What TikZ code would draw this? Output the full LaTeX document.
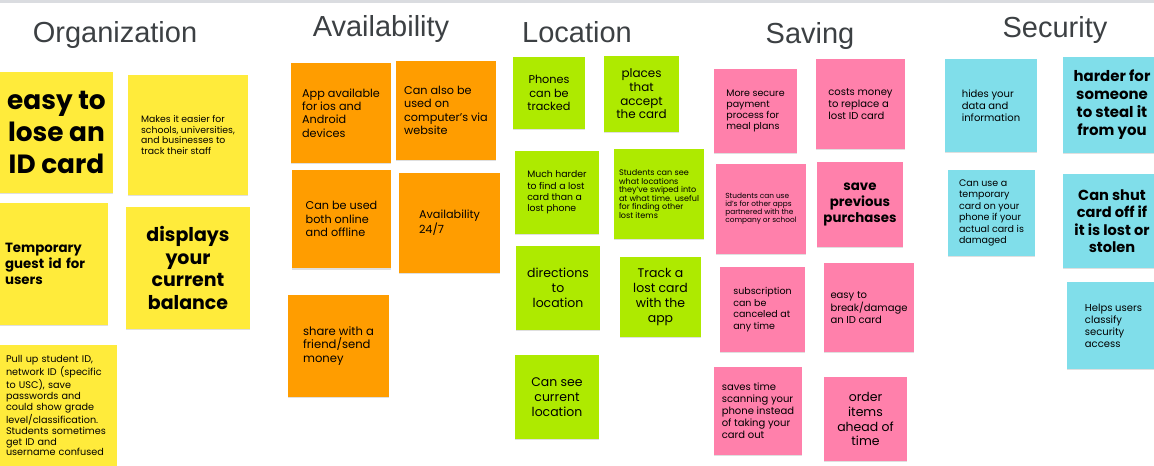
\documentclass[tikz,border=0pt]{standalone}
\usepackage{fontspec}
\setmainfont{Poppins}
\newfontfamily\headfont{Liberation Sans}
\usepackage{xcolor}
\usetikzlibrary{shadows}
\definecolor{stickyy}{HTML}{FFEB3B}
\definecolor{stickyo}{HTML}{FF9D00}
\definecolor{stickyg}{HTML}{AEEA00}
\definecolor{stickyp}{HTML}{FF80AB}
\definecolor{stickyc}{HTML}{80DEEA}
\definecolor{headgray}{HTML}{3C4043}
\definecolor{topgray}{HTML}{DADCE0}

\tikzset{
  note/.style={rectangle, inner sep=0pt, text=black, drop shadow={shadow xshift=0.2pt, shadow yshift=-0.7pt, opacity=0.25}},
  sz/.style 2 args={font=\fontsize{#1pt}{#2pt}\selectfont},
  head/.style={text=headgray, font=\headfont\fontsize{16.5}{19}\selectfont}
}

\begin{document}
\begin{tikzpicture}[x=0.02cm, y=-0.02cm]
    % basics
    \useasboundingbox (0,0) rectangle (1154,466);
    \clip (0,0) rectangle (1154,466);
    \fill[topgray] (0,0) rectangle (1154,3);

    % headings
    \node[head] (torg) at (115,35) {Organization};
    \node[head] (tavail) at (381,29) {Availability};
    \node[head] (tloc) at (577,32) {Location};
    \node[head] (tsave) at (810,36) {Saving};
    \node[head] (tsec) at (1055,30) {Security};

    % organization
    \node[note, fill=stickyy, minimum width=2.26cm, minimum height=2.42cm, align=center, sz={15}{18}] (easy) at (56.5,132.5) {\bfseries easy to\\ \bfseries lose an\\ \bfseries ID card};
    \node[note, fill=stickyy, minimum width=2.40cm, minimum height=2.40cm, align=left, sz={5.3}{6.2}] (makes) at (188,135) {Makes it easier for\\ schools, universities,\\ and businesses to\\ track their staff};
    \node[note, fill=stickyy, minimum width=2.16cm, minimum height=2.44cm, inner xsep=0.1cm, text width=1.96cm, align=left, sz={7.6}{9.1}] (guest) at (54,264) {\bfseries Temporary\\ \bfseries guest id for\\ \bfseries users};
    \node[note, fill=stickyy, minimum width=2.48cm, minimum height=2.44cm, align=center, sz={10.8}{13}] (balance) at (188,268) {\bfseries displays\\ \bfseries your\\ \bfseries current\\ \bfseries balance};
    \node[note, fill=stickyy, minimum width=2.34cm, minimum height=2.42cm, inner xsep=0.12cm, text width=2.10cm, align=left, sz={5.5}{6.1}] (pullup) at (58.5,405.5) {Pull up student ID,\\ network ID (specific\\ to USC), save\\ passwords and\\ could show grade\\ level/classification.\\ Students sometimes\\ get ID and\\ username confused};

    % availability
    \node[note, fill=stickyo, minimum width=2.00cm, minimum height=2.00cm, align=left, sz={6.4}{7.65}] (apps) at (341,113) {App available\\ for ios and\\ Android\\ devices};
    \node[note, fill=stickyo, minimum width=2.00cm, minimum height=1.98cm, align=left, sz={6.4}{7.65}] (website) at (446,110.5) {Can also be\\ used on\\ computer's via\\ website};
    \node[note, fill=stickyo, minimum width=1.98cm, minimum height=1.98cm, align=left, sz={6.4}{7.65}] (offline) at (341.5,219) {Can be used\\ both online\\ and offline};
    \node[note, fill=stickyo, minimum width=2.02cm, minimum height=2.00cm, align=left, sz={6.4}{7.65}] (allday) at (449.5,223) {Availability\\ 24/7};
    \node[note, fill=stickyo, minimum width=2.02cm, minimum height=2.04cm, align=left, sz={6.6}{7.9}] (share) at (338.5,346) {share with a\\ friend/send\\ money};

    % location
    \node[note, fill=stickyg, minimum width=1.44cm, minimum height=1.44cm, align=center, sz={6.4}{7.65}] (phones) at (549,93) {Phones\\ can be\\ tracked};
    \node[note, fill=stickyg, minimum width=1.50cm, minimum height=1.52cm, align=center, sz={6.8}{7.8}] (places) at (641.5,94) {places\\ that\\ accept\\ the card};
    \node[note, fill=stickyg, minimum width=1.68cm, minimum height=1.66cm, align=left, sz={5.3}{6.4}] (harder) at (557,192.5) {Much harder\\ to find a lost\\ card than a\\ lost phone};
    \node[note, fill=stickyg, minimum width=1.80cm, minimum height=1.80cm, align=left, sz={4.6}{4.8}] (swiped) at (659,194) {Students can see\\ what locations\\ they've swiped into\\ at what time. useful\\ for finding other\\ lost items};
    \node[note, fill=stickyg, minimum width=1.68cm, minimum height=1.68cm, align=center, sz={7.1}{8.5}] (directions) at (558,288) {directions\\ to\\ location};
    \node[note, fill=stickyg, minimum width=1.62cm, minimum height=1.60cm, align=center, sz={7.1}{8.5}] (tracklost) at (660.5,297) {Track a\\ lost card\\ with the\\ app};
    \node[note, fill=stickyg, minimum width=1.68cm, minimum height=1.68cm, align=center, sz={7.1}{8.5}] (curloc) at (557,397) {Can see\\ current\\ location};

    % saving
    \node[note, fill=stickyp, minimum width=1.66cm, minimum height=1.68cm, align=left, sz={5.4}{6.2}] (secure) at (755.5,111) {More secure\\ payment\\ process for\\ meal plans};
    \node[note, fill=stickyp, minimum width=1.78cm, minimum height=1.80cm, align=left, sz={5.7}{6.8}] (costs) at (860.5,104) {costs money\\ to replace a\\ lost ID card};
    \node[note, fill=stickyp, minimum width=1.80cm, minimum height=1.80cm, align=left, sz={4.2}{4.6}] (partners) at (761,209) {Students can use\\ id's for other apps\\ partnered with the\\ company or school};
    \node[note, fill=stickyp, minimum width=1.72cm, minimum height=1.70cm, align=center, sz={7.6}{9.1}] (purchases) at (860,204.5) {\bfseries save\\ \bfseries previous\\ \bfseries purchases};
    \node[note, fill=stickyp, minimum width=1.70cm, minimum height=1.70cm, align=left, sz={5.4}{6.5}] (subscr) at (762.5,309.5) {subscription\\ can be\\ canceled at\\ any time};
    \node[note, fill=stickyp, minimum width=1.80cm, minimum height=1.78cm, align=left, sz={5.7}{6.8}] (damage) at (869,307.5) {easy to\\ break/damage\\ an ID card};
    \node[note, fill=stickyp, minimum width=1.76cm, minimum height=1.76cm, align=left, sz={5.7}{6.8}] (scantime) at (758,411) {saves time\\ scanning your\\ phone instead\\ of taking your\\ card out};
    \node[note, fill=stickyp, minimum width=1.66cm, minimum height=1.68cm, align=center, sz={7.1}{8.5}] (order) at (865.5,419) {order\\ items\\ ahead of\\ time};

    % security
    \node[note, fill=stickyc, minimum width=1.84cm, minimum height=1.86cm, align=left, sz={5.7}{6.8}] (hides) at (991,105.5) {hides your\\ data and\\ information};
    \node[note, fill=stickyc, minimum width=1.96cm, minimum height=1.92cm, align=center, sz={8.5}{10.2}] (steal) at (1112,105) {\bfseries harder for\\ \bfseries someone\\ \bfseries to steal it\\ \bfseries from you};
    \node[note, fill=stickyc, minimum width=1.74cm, minimum height=1.72cm, align=left, sz={5.4}{6.5}] (tempcard) at (991.5,213) {Can use a\\ temporary\\ card on your\\ phone if your\\ actual card is\\ damaged};
    \node[note, fill=stickyc, minimum width=1.96cm, minimum height=1.88cm, align=center, sz={8.3}{9.9}] (shutoff) at (1112,221) {\bfseries Can shut\\ \bfseries card off if\\ \bfseries it is lost or\\ \bfseries stolen};
    \node[note, fill=stickyc, minimum width=1.86cm, minimum height=1.74cm, align=left, sz={5.7}{6.8}] (classify) at (1113.5,325.5) {Helps users\\ classify\\ security\\ access};
\end{tikzpicture}
\end{document}
